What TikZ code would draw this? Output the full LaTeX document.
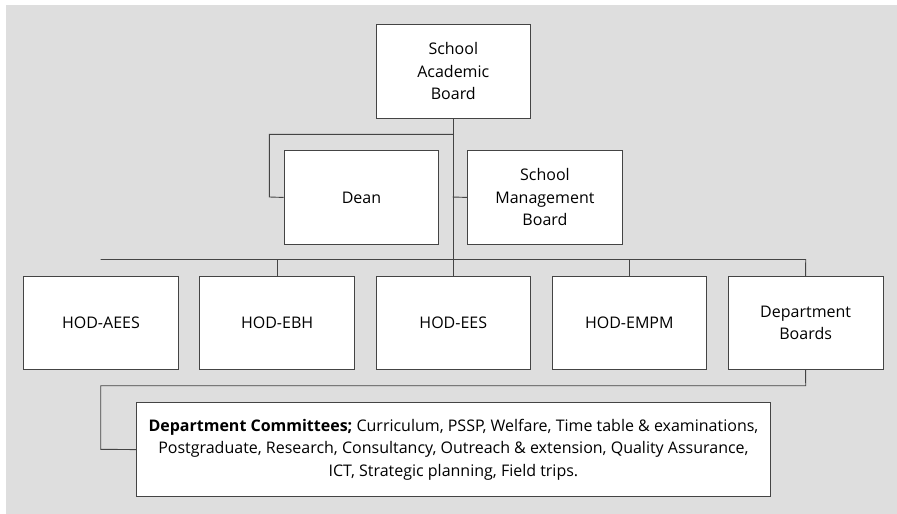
\documentclass[tikz,border=0pt]{standalone}
\usepackage{fontspec}
\setmainfont{Open Sans}
\definecolor{bggray}{HTML}{DEDEDE}
\definecolor{linegray}{HTML}{444444}
\begin{document}
\begin{tikzpicture}[x=1pt,y=-1pt,
  orgbox/.style={draw=linegray,line width=0.9pt,fill=white,anchor=north west,inner sep=0pt,align=center,font=\fontsize{16}{22.5}\selectfont},
  link/.style={draw=linegray,line width=0.9pt}]
\useasboundingbox (0,0) rectangle (897,514);
\fill[bggray] (6,5) rectangle (897,514);
% boxes
\node[orgbox,minimum width=154.3pt,minimum height=93.4pt] (sab) at (375.7,24.3) {School\\Academic\\Board};
\node[orgbox,minimum width=154.6pt,minimum height=93.4pt] (dean) at (283.7,150.3) {Dean};
\node[orgbox,minimum width=154.4pt,minimum height=93.4pt] (smb) at (467.3,150.3) {School\\Management\\Board};
\node[orgbox,minimum width=154.4pt,minimum height=93.3pt] (aees) at (23.3,276) {HOD-AEES};
\node[orgbox,minimum width=154.7pt,minimum height=93.3pt] (ebh) at (199.3,276) {HOD-EBH};
\node[orgbox,minimum width=154.3pt,minimum height=93.3pt] (ees) at (375.7,276) {HOD-EES};
\node[orgbox,minimum width=154.3pt,minimum height=93.3pt] (empm) at (551.7,276) {HOD-EMPM};
\node[orgbox,minimum width=155pt,minimum height=93.3pt] (db) at (727.7,276) {Department\\Boards};
\node[orgbox,minimum width=634pt,minimum height=93.7pt] (dc) at (136,402.3) {\textbf{Department Committees;} Curriculum, PSSP, Welfare, Time table \& examinations,\\Postgraduate, Research, Consultancy, Outreach \& extension, Quality Assurance,\\ICT, Strategic planning, Field trips.};
% coordinates
\coordinate (busL) at (100.7,259.5);
\coordinate (busR) at (805.7,259.5);
% connectors
\draw[link] (sab.south) -- (ees.north);
\draw[link] (sab.south |- 0,134.3) -| (269.3,197) -- (dean.west);
\draw[link] (452.7,197) -- (smb.west);
\draw[link] (busL) -- (busR) -- (db.north);
\draw[link] (ebh.north |- busL) -- (ebh.north);
\draw[link] (empm.north |- busL) -- (empm.north);
\draw[link] (db.south) -- (805.7,385.7) -| (100.7,449.3) -- (dc.west);
\end{tikzpicture}
\end{document}
